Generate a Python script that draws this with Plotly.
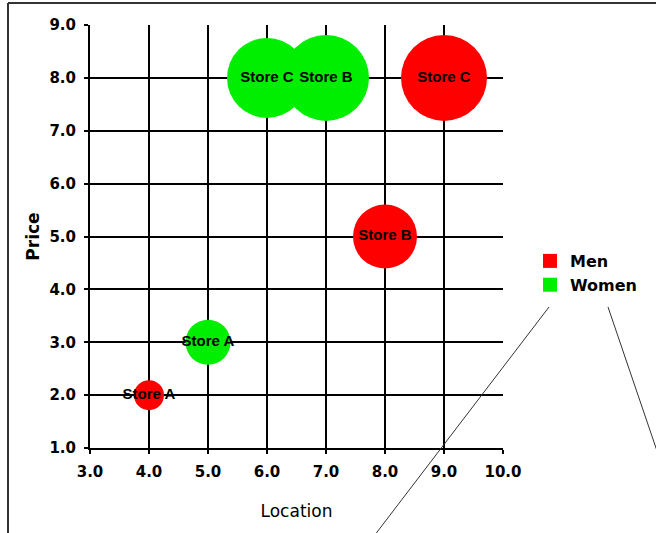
import plotly.graph_objects as go

# Store positioning data: location vs price, bubble diameter per store
men_stores = ["Store A", "Store B", "Store C"]
men_location = [4.0, 8.0, 9.0]
men_price = [2.0, 5.0, 8.0]
men_size = [30, 64, 86]

women_stores = ["Store A", "Store C", "Store B"]
women_location = [5.0, 6.0, 7.0]
women_price = [3.0, 8.0, 8.0]
women_size = [45, 80, 86]

series = [
    ("Men", men_location, men_price, men_size, men_stores, "#ff0000"),
    ("Women", women_location, women_price, women_size, women_stores, "#00ee00"),
]

LABEL_FONT = "Liberation Sans, Arial, sans-serif"
AXIS_FONT = "DejaVu Sans, sans-serif"

fig = go.Figure()

for name, xs, ys, sizes, labels, color in series:
    fig.add_trace(go.Scatter(
        x=xs, y=ys, mode="markers+text", name=name,
        text=labels, textposition="middle center",
        textfont=dict(family=LABEL_FONT, size=15, color="black", weight="bold"),
        marker=dict(size=sizes, sizemode="diameter", sizeref=1,
                    color=color, opacity=1, line=dict(width=0)),
        showlegend=False, cliponaxis=False,
    ))

# Square legend swatches
for name, *_rest, color in series:
    fig.add_trace(go.Scatter(
        x=[None], y=[None], mode="markers", name=name,
        marker=dict(symbol="square", size=14, color=color, line=dict(width=0)),
        showlegend=True,
    ))

axis_common = dict(
    showgrid=True, gridcolor="black", gridwidth=2,
    showline=True, linecolor="black", linewidth=2,
    ticks="outside", ticklen=4, tickwidth=2, tickcolor="black",
    tickformat=".1f", dtick=1, zeroline=False, mirror=False,
    ticklabelstandoff=5,
    tickfont=dict(family=AXIS_FONT, size=15, color="black", weight="bold"),
)

fig.update_xaxes(range=[3, 10], title=dict(text="Location", standoff=25,
                 font=dict(family=AXIS_FONT, size=17, color="black")), **axis_common)
fig.update_yaxes(range=[1, 9], title=dict(text="Price", standoff=5,
                 font=dict(family=AXIS_FONT, size=17, color="black", weight="bold")),
                 **axis_common)

L, T, W, H = 90, 25, 413, 423


def px(xp, yp):
    return (xp - L) / W, (T + H - yp) / H


shapes = []
# frame around the chart
x0, y0 = px(8, 3)
x1, y1 = px(700, 560)
shapes.append(dict(type="line", xref="paper", yref="paper", x0=x0, y0=y0, x1=x1, y1=y0,
                   line=dict(color="#333333", width=2)))
shapes.append(dict(type="line", xref="paper", yref="paper", x0=x0, y0=y0, x1=x0, y1=y1,
                   line=dict(color="#333333", width=2)))
# connector strokes below the legend
a0, b0 = px(549, 307)
a1, b1 = px(371, 540)
shapes.append(dict(type="line", xref="paper", yref="paper", x0=a0, y0=b0, x1=a1, y1=b1,
                   line=dict(color="#333333", width=1)))
a0, b0 = px(608, 307)
a1, b1 = px(672, 495)
shapes.append(dict(type="line", xref="paper", yref="paper", x0=a0, y0=b0, x1=a1, y1=b1,
                   line=dict(color="#333333", width=1)))

lx, ly = px(530, 273)

fig.update_layout(
    width=656, height=533,
    margin=dict(l=L, r=656 - L - W, t=T, b=533 - T - H),
    paper_bgcolor="white", plot_bgcolor="white",
    shapes=shapes,
    showlegend=True,
    legend=dict(x=lx, y=ly, xanchor="left", yanchor="middle",
                font=dict(family=AXIS_FONT, size=16, color="black", weight="bold"),
                bgcolor="rgba(0,0,0,0)", itemwidth=30, tracegroupgap=0,
                borderwidth=0),
)

fig.write_html("out.html")
